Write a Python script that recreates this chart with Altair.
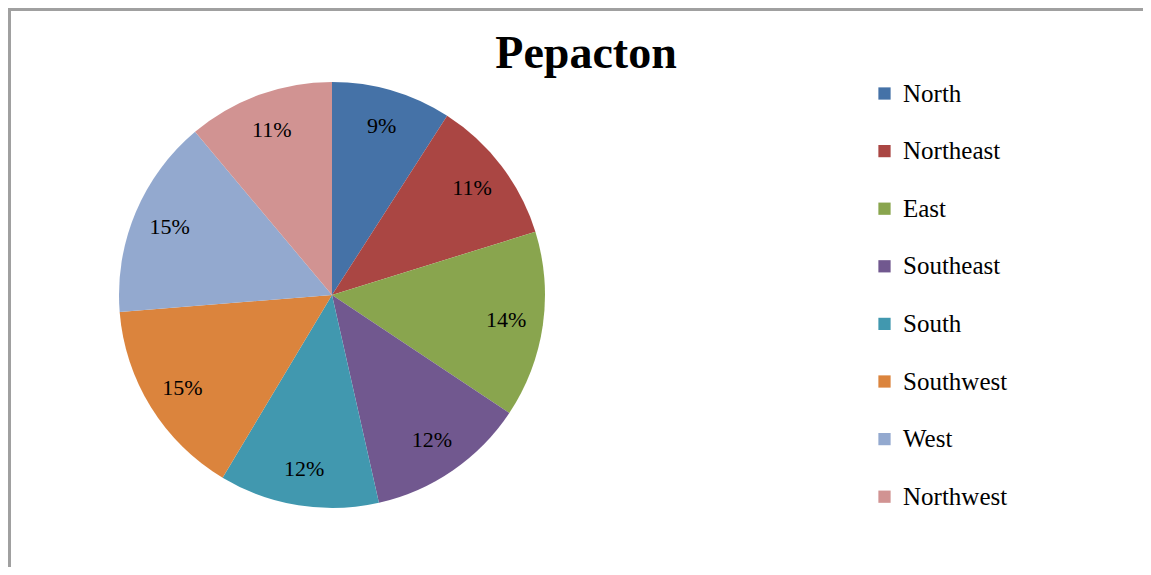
import altair as alt
import pandas as pd

categories = ["North", "Northeast", "East", "Southeast", "South", "Southwest", "West", "Northwest"]
values = [9, 11, 14, 12, 12, 15, 15, 11]
labels = ["9%", "11%", "14%", "12%", "12%", "15%", "15%", "11%"]
colors = ["#4572A7", "#AA4643", "#89A54E", "#71588F", "#4198AF", "#DB843D", "#93A9CF", "#D19392"]
title_text = "Pepacton"

df = pd.DataFrame({
    "direction": categories,
    "value": values,
    "label": labels,
    "order": list(range(len(categories))),
})

W, H = 1135, 559
CX, CY, R = 324, 287, 213
SERIF = "Liberation Serif"

base = alt.Chart(df).encode(
    theta=alt.Theta("value:Q", stack=True),
    order=alt.Order("order:Q"),
)

pie = base.mark_arc(radius=R).encode(
    x=alt.value(CX),
    y=alt.value(CY),
    color=alt.Color(
        "direction:N",
        scale=alt.Scale(domain=categories, range=colors),
        sort=categories,
        legend=alt.Legend(
            title=None,
            orient="none",
            legendX=864,
            legendY=73,
            symbolType="square",
            symbolSize=150,
            symbolStrokeWidth=0,
            labelFont=SERIF,
            labelFontSize=25,
            labelColor="#000000",
            labelOffset=6,
            rowPadding=31.6,
            labelLimit=300,
        ),
    ),
)

pct = base.mark_text(radius=176, font=SERIF, fontSize=22, color="#000000").encode(
    x=alt.value(CX),
    y=alt.value(CY),
    text="label:N",
)

title = alt.Chart(pd.DataFrame({"t": [title_text]})).mark_text(
    font=SERIF, fontSize=46, fontWeight="bold", color="#000000", baseline="alphabetic", align="center"
).encode(
    x=alt.value(578),
    y=alt.value(60),
    text="t:N",
)

top_rule = alt.Chart(pd.DataFrame({"a": [0]})).mark_rule(color="#A0A0A0", strokeWidth=3).encode(
    x=alt.value(0), x2=alt.value(W), y=alt.value(1.5)
)
left_rule = alt.Chart(pd.DataFrame({"a": [0]})).mark_rule(color="#A0A0A0", strokeWidth=3).encode(
    x=alt.value(1.5), y=alt.value(0), y2=alt.value(H)
)

chart = alt.layer(pie, pct, title, top_rule, left_rule).properties(
    width=W,
    height=H,
    padding=0,
    autosize=alt.AutoSizeParams(type="none"),
).configure_view(stroke=None).configure(background="white")

chart.save("out.html", embed_options={"renderer": "svg", "actions": False})
